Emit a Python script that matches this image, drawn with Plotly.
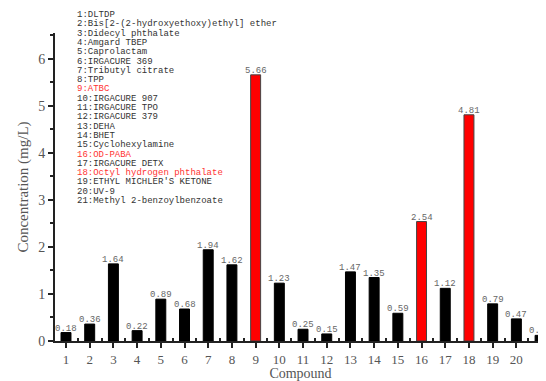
import plotly.graph_objects as go

compounds = list(range(1, 22))
values = [0.18, 0.36, 1.64, 0.22, 0.89, 0.68, 1.94, 1.62, 5.66, 1.23, 0.25,
          0.15, 1.47, 1.35, 0.59, 2.54, 1.12, 4.81, 0.79, 0.47, 0.12]
highlight = [9, 16, 18]
names = ["DLTDP", "Bis[2-(2-hydroxyethoxy)ethyl] ether", "Didecyl phthalate",
         "Amgard TBEP", "Caprolactam", "IRGACURE 369", "Tributyl citrate", "TPP",
         "ATBC", "IRGACURE 907", "IRGACURE TPO", "IRGACURE 379", "DEHA", "BHET",
         "Cyclohexylamine", "OD-PABA", "IRGACURE DETX", "Octyl hydrogen phthalate",
         "ETHYL MICHLER'S KETONE", "UV-9", "Methyl 2-benzoylbenzoate"]

colors = ["#ff0000" if c in highlight else "#000000" for c in compounds]
lines = ["#444444" if c in highlight else "#000000" for c in compounds]

fig = go.Figure(go.Bar(
    x=compounds, y=values, width=0.42,
    marker=dict(color=colors, line=dict(color=lines, width=1)),
))

# value labels sitting right on the bar tops
for c, v in zip(compounds, values):
    fig.add_annotation(
        x=c, y=v, text=f"{v:.2f}", xref="x", yref="y",
        yanchor="bottom", xanchor="center", showarrow=False, yshift=-3,
        font=dict(family="Liberation Mono", size=9, color="#666666"),
    )

# page has an 8px body margin, so the figure is offset by 8px
OFF = 8
W, H = 546 - OFF, 381 - OFF
L, R, T, B = 55 - OFF, 0, 33 - OFF, 40
ph = H - T - B
for i, n in enumerate(names):
    ypix = 15 + i * 9.3 - OFF
    red = (i + 1) in highlight
    fig.add_annotation(
        text=f"{i+1}:{n}", xref="paper", yref="paper",
        x=(75 - 55) / (546 - 55), y=(H - B - ypix) / ph,
        xanchor="left", yanchor="middle", showarrow=False,
        font=dict(family="Liberation Mono", size=9,
                  color="#ff3333" if red else "#333333"),
    )

fig.update_layout(
    width=W, height=H, margin=dict(l=L, r=R, t=T, b=B),
    plot_bgcolor="white", paper_bgcolor="white", showlegend=False,
    font=dict(family="Liberation Serif", color="#555555"),
)
fig.update_xaxes(
    range=[0.536, 21.25], tickmode="array", tickvals=compounds,
    ticks="outside", ticklen=5, tickwidth=2, tickcolor="#222222",
    showline=True, linecolor="#222222", linewidth=2, showgrid=False, zeroline=False,
    tickfont=dict(size=13, color="#555555"),
    minor=dict(tickvals=[c + 0.5 for c in compounds], ticks="inside", ticklen=3,
               tickwidth=2, tickcolor="#222222", showgrid=False),
    title=dict(text="Compound", font=dict(size=14, color="#555555"), standoff=5),
)
fig.update_yaxes(
    range=[0, 6.55], tickmode="linear", tick0=0, dtick=1,
    ticks="outside", ticklen=5, tickwidth=2, tickcolor="#222222",
    showline=True, linecolor="#222222", linewidth=2, showgrid=False, zeroline=False,
    tickfont=dict(size=14, color="#555555"),
    minor=dict(dtick=0.5, ticks="outside", ticklen=3, tickwidth=2,
               tickcolor="#222222", showgrid=False),
    title=dict(text="Concentration (mg/L)", font=dict(size=15, color="#555555"), standoff=6),
)

fig.write_html("out.html")
